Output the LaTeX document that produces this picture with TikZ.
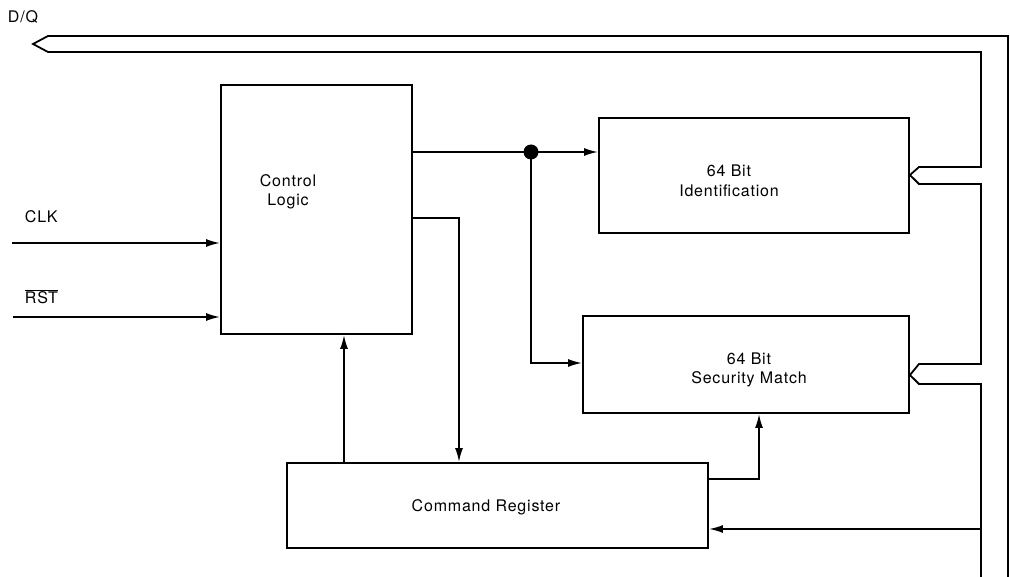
\documentclass[tikz,border=0pt]{standalone}
\usepackage{fontspec}
\setmainfont{TeX Gyre Heros}[LetterSpace=5]
\usetikzlibrary{arrows.meta}
\begin{document}
\begin{tikzpicture}[x=1pt,y=-1pt,line width=1.8pt,
  blk/.style={draw,line width=1.9pt,inner sep=0pt},
  lbl/.style={font=\fontsize{16}{19.5}\selectfont,align=center,inner sep=0pt},
  arr/.style={-{Latex[length=14pt,width=8pt]}},
  line join=miter]
\useasboundingbox (0,0) rectangle (1010,577);
\fill[white] (0,0) rectangle (1010,577);
% blocks
\node[blk,minimum width=191pt,minimum height=249pt] (ctl) at (316.5,209.5) {};
\node[lbl] (ctltext) at (288,192) {Control\\Logic};
\node[blk,minimum width=310pt,minimum height=115pt] (id) at (754,175.5) {};
\node[lbl] (idtext) at (729,181) {64 Bit\\Identification};
\node[blk,minimum width=326pt,minimum height=97pt] (sec) at (746,364.5) {};
\node[lbl] (sectext) at (749,370) {64 Bit\\Security Match};
\node[blk,minimum width=421pt,minimum height=85pt] (cmd) at (497.5,505.5) {};
\node[lbl] (cmdtext) at (486,507) {Command Register};
% labels
\node[lbl,anchor=west] (dq) at (7,17) {D/Q};
\node[lbl,anchor=west] (clk) at (24,217) {CLK};
\node[lbl,anchor=west] (rst) at (24,297) {$\overline{\mbox{RST}}$};
% input coordinates
\coordinate (clkin) at (12,243);
\coordinate (rstin) at (13,317);
\coordinate (dot) at (531,152);
\coordinate (c2) at (459,218);
\coordinate (up) at (344,0);
\coordinate (sm) at (759,479);
\coordinate (busin) at (981,529);
% connectors
\draw[arr] (clkin) -- (clkin -| ctl.west);
\draw[arr] (rstin) -- (rstin -| ctl.west);
\draw (dot -| ctl.east) -- (dot);
\draw[arr] (dot) -- (dot -| id.west);
\fill (dot) circle (7.5pt);
\draw[arr] (dot) -- (dot |- 0,363) -- (sec.west |- 0,363);
\draw[arr] (c2 -| ctl.east) -- (c2) -- (c2 |- cmd.north);
\draw[arr] (up |- cmd.north) -- (up |- ctl.south);
\draw[arr] (sm -| cmd.east) -- (sm) -- (sm |- sec.south);
\draw[arr] (busin) -- (busin -| cmd.east);
% bus
\draw (1008,580) -- (1008,36) -- (48,36) -- (33,44) -- (48,52) -- (981,52)
  -- (981,167) -- (919,167) -- (id.east |- 0,175) -- (919,184) -- (981,184)
  -- (981,364) -- (919,364) -- (sec.east |- 0,375) -- (919,384) -- (981,384)
  -- (981,580);
\end{tikzpicture}
\end{document}
